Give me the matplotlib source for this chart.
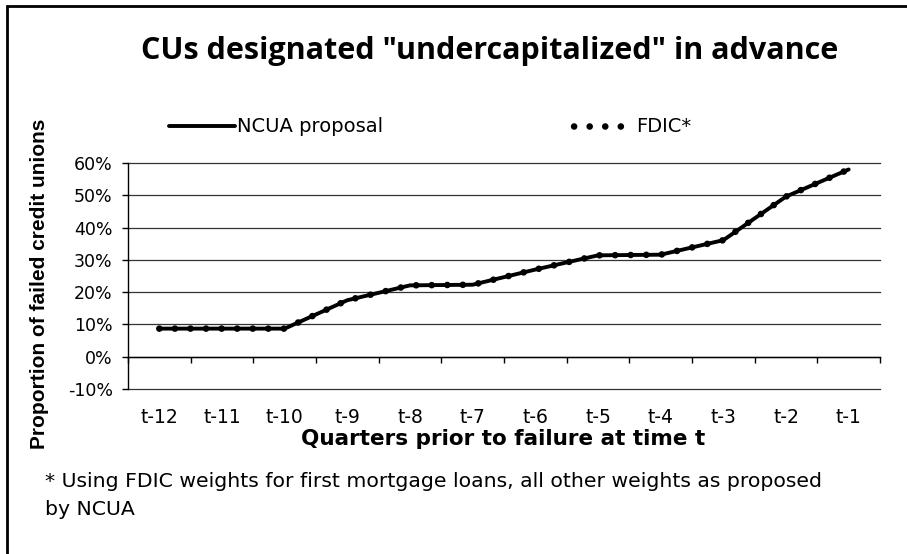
import numpy as np
import matplotlib
matplotlib.use("Agg")
import matplotlib.pyplot as plt
from matplotlib.patches import Rectangle
from matplotlib.legend_handler import HandlerLine2D

plt.rcParams['font.family'] = ['DejaVu Sans']
plt.rcParams['lines.scale_dashes'] = False

# data (percent)
quarters = ['t-12', 't-11', 't-10', 't-9', 't-8', 't-7', 't-6', 't-5', 't-4', 't-3', 't-2', 't-1']
ncua = [8.7, 8.7, 8.7, 17.5, 22.1, 22.3, 27.0, 31.4, 31.6, 36.1, 49.6, 58.0]
fdic = [8.7, 8.7, 8.7, 17.5, 22.1, 22.3, 27.0, 31.4, 31.6, 36.1, 49.6, 58.0]
yticks = [-10, 0, 10, 20, 30, 40, 50, 60]

W, H = 907, 554
fig = plt.figure(figsize=(W / 100, H / 100), dpi=100)

def fx(px):
    return px / W

def fy(py):
    return 1 - py / H

ax = fig.add_axes([fx(128), fy(389), fx(880) - fx(128), fy(163) - fy(389)])

x = np.arange(len(quarters))
l1, = ax.plot(x, np.array(ncua) / 100, color='black', lw=2.8, solid_capstyle='round',
              label='NCUA proposal', zorder=3)
l2, = ax.plot(x, np.array(fdic) / 100, color='black', lw=4.8, linestyle=(0, (0.01, 11.2)),
              dash_capstyle='round', label='FDIC*', zorder=4)

ax.set_xlim(-0.5, len(quarters) - 0.5)
ax.set_ylim(-0.10, 0.60)
ax.set_yticks(np.array(yticks) / 100)
ax.set_yticklabels([f'{v}%' for v in yticks], fontsize=12.5)
for v in yticks:
    ax.axhline(v / 100, color='#333333', lw=0.9, zorder=1, clip_on=False)

ax.spines['top'].set_visible(False)
ax.spines['right'].set_visible(False)
ax.spines['left'].set_linewidth(1.0)
ax.spines['bottom'].set_position(('data', 0))
ax.spines['bottom'].set_linewidth(1.0)

ax.set_xticks(x)
ax.set_xticklabels(quarters, fontsize=13.5)
ax.set_xticks(np.arange(len(quarters) + 1) - 0.5, minor=True)
ax.tick_params(axis='x', which='major', length=0, pad=37)
ax.tick_params(axis='x', which='minor', length=4, width=1, direction='out')
ax.tick_params(axis='y', length=4, width=1, direction='out', pad=7)

fig.text(fx(490), fy(59), 'CUs designated "undercapitalized" in advance',
         fontsize=22, fontweight='bold', family=['Open Sans', 'DejaVu Sans'],
         ha='center', va='baseline')
fig.text(fx(40), fy(284), 'Proportion of failed credit unions', rotation=90,
         fontsize=15, fontweight='bold', family=['Liberation Sans', 'DejaVu Sans'],
         ha='center', va='center')
fig.text(fx(503), fy(439), 'Quarters prior to failure at time t',
         fontsize=15.5, fontweight='bold', ha='center', va='center')
fig.text(fx(45), fy(487), '* Using FDIC weights for first mortgage loans, all other weights as proposed',
         fontsize=14.7, ha='left', va='baseline')
fig.text(fx(45), fy(515), 'by NCUA', fontsize=14.7, ha='left', va='baseline')

# four dots, then a long gap, so the key ends before the label
def dotted_key(legline, orig):
    legline.update_from(orig)
    legline.set_linestyle((69.6, (0.01, 11.2, 0.01, 11.2, 0.01, 11.2, 0.01, 40)))

fig.legend(handles=[l1, l2], loc='center', bbox_to_anchor=(fx(430), fy(127)), ncol=2,
           frameon=False, fontsize=14, handlelength=3.4, handletextpad=0.1,
           columnspacing=9.5, handler_map={l2: HandlerLine2D(update_func=dotted_key)})

fig.patches.append(Rectangle((fx(7), fy(560)), fx(910), fy(6) - fy(560),
                             transform=fig.transFigure, fill=False, lw=2, ec='black'))

fig.savefig('out.png', dpi=100)
